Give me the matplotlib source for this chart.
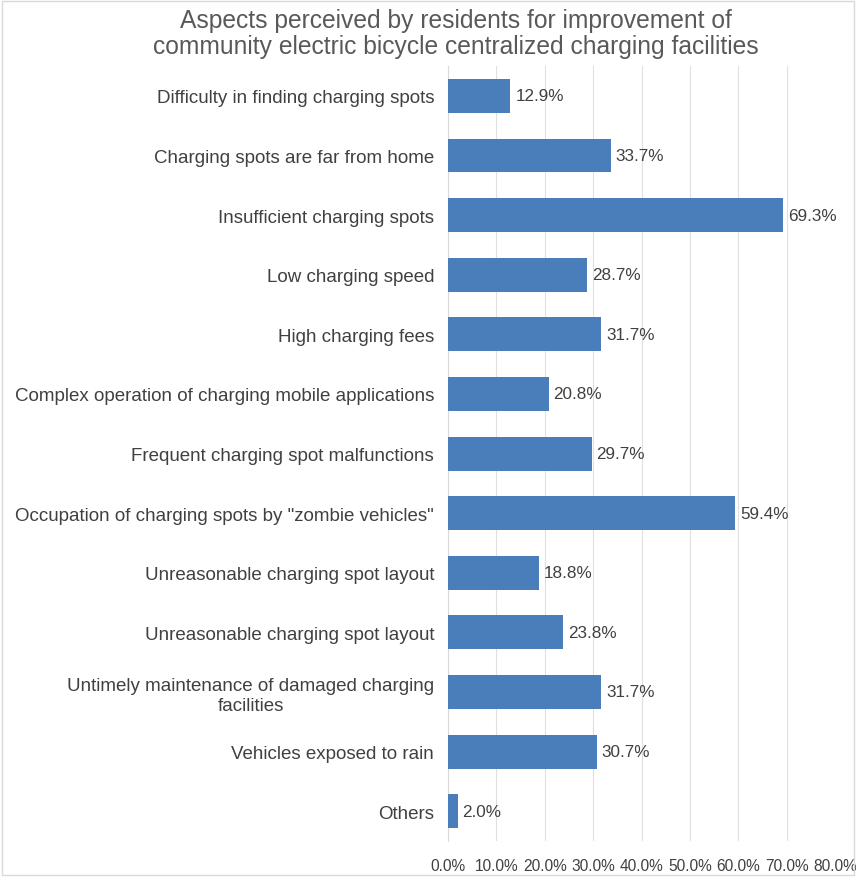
import matplotlib.pyplot as plt
import numpy as np

plt.rcParams['font.family'] = ['Liberation Sans', 'DejaVu Sans']

# data, top to bottom as in the chart
categories = [
    "Difficulty in finding charging spots",
    "Charging spots are far from home",
    "Insufficient charging spots",
    "Low charging speed",
    "High charging fees",
    "Complex operation of charging mobile applications",
    "Frequent charging spot malfunctions",
    'Occupation of charging spots by "zombie vehicles"',
    "Unreasonable charging spot layout",
    "Unreasonable charging spot layout",
    "Untimely maintenance of damaged charging\nfacilities",
    "Vehicles exposed to rain",
    "Others",
]
values = [12.9, 33.7, 69.3, 28.7, 31.7, 20.8, 29.7, 59.4, 18.8, 23.8, 31.7, 30.7, 2.0]
xticks = [0, 10, 20, 30, 40, 50, 60, 70, 80]

fig = plt.figure(figsize=(8.56, 8.78), dpi=100)
ax = fig.add_axes([0.5234, 0.041, 0.4521, 0.8826])

y = np.arange(len(categories))
ax.barh(y, values, height=0.57, color='#4a7ebb', zorder=3)
for yi, v in zip(y, values):
    ax.text(v + 1.0, yi, f"{v:.1f}%", va='center', ha='left',
            fontsize=12.3, color='#404040')

ax.set_ylim(len(categories) - 0.5, -0.5)
ax.set_xlim(0, 80)
ax.set_yticks(y)
ax.set_yticklabels(categories, fontsize=13.5, color='#404040', multialignment='center')
ax.set_xticks(xticks)
ax.set_xticklabels([f"{t:.1f}%" for t in xticks], fontsize=11.2, color='#404040')
ax.tick_params(length=0)
ax.tick_params(axis='y', pad=10)
ax.tick_params(axis='x', pad=12)
ax.grid(axis='x', color='#e0e0e0', linewidth=0.8, zorder=0)
for s in ['top', 'right', 'bottom']:
    ax.spines[s].set_visible(False)
ax.spines['left'].set_color('#d9d9d9')

fig.text(0.533, 0.961, "Aspects perceived by residents for improvement of\n"
         "community electric bicycle centralized charging facilities",
         ha='center', va='center', fontsize=17.7, color='#595959', linespacing=1.1)

fig.patches.append(plt.Rectangle((0.002, 0.002), 0.996, 0.996, transform=fig.transFigure,
                                 fill=False, edgecolor='#d9d9d9', linewidth=1))

fig.savefig('out.png', dpi=100)
